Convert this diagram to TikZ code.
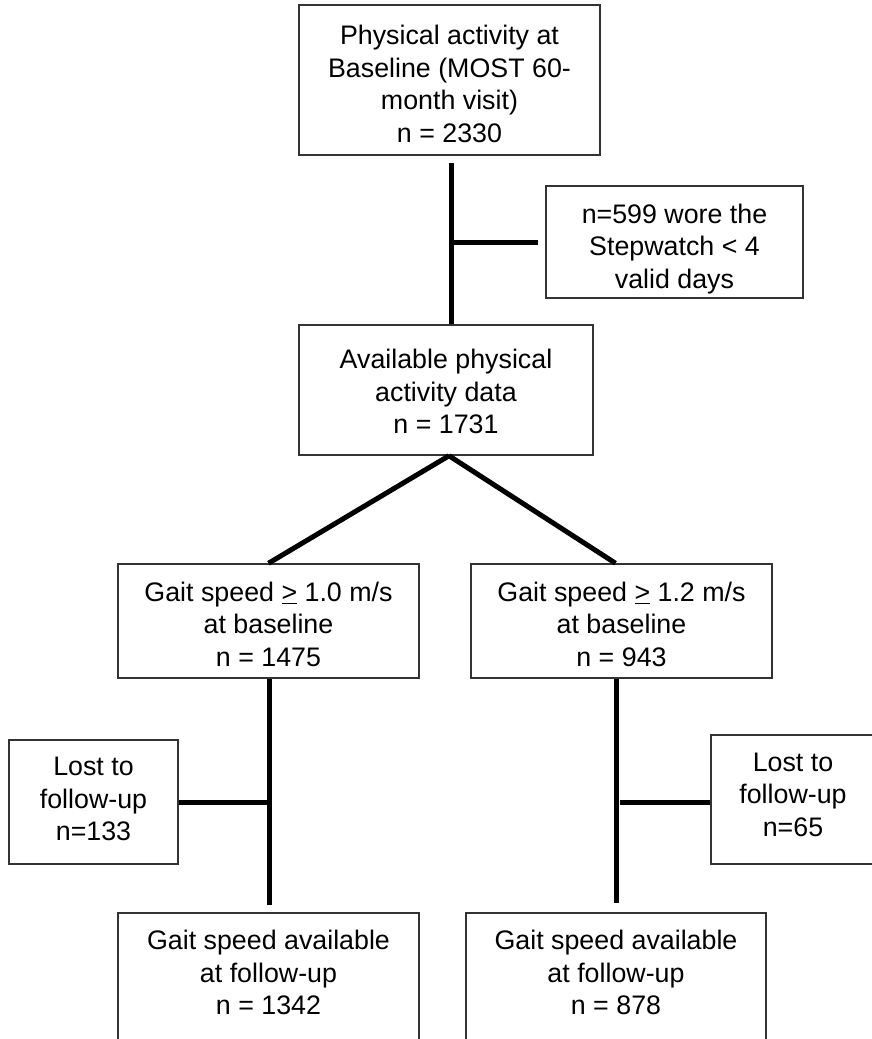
\documentclass[tikz,border=0pt]{standalone}
\usepackage{fontspec}
\setmainfont{Liberation Sans}
\usetikzlibrary{calc}
\newcommand\bxfont{\fontsize{26.8}{32.5}\selectfont}
\newcommand\myht[1]{\rule{0pt}{#1pt}}
\newcommand\mydp[1]{\rule[-#1pt]{0pt}{#1pt}}
\begin{document}
\begin{tikzpicture}[x=1pt,y=-1pt,
  box/.style={draw=black!80, line width=1.5pt, fill=white, align=center, inner sep=0pt, font=\bxfont},
  conn/.style={line width=5pt, black}]
\useasboundingbox (0,0) rectangle (872,1039);
\clip (0,0) rectangle (872,1039);
% boxes
\node[box, minimum width=301, minimum height=150] (b1) at (449.5,80)
  {\myht{27}Physical activity at\\Baseline (MOST 60-\\month visit)\\n = 2330};
\node[box, minimum width=257, minimum height=112] (b2) at (674.5,242)
  {\myht{33}n=599 wore the\\Stepwatch < 4\\valid days};
\node[box, minimum width=294, minimum height=130] (b3) at (446,390)
  {\myht{23}Available physical\\activity data\\n = 1731};
\node[box, minimum width=301, minimum height=114] (b4) at (268.5,621)
  {\myht{26}Gait speed \underline{>} 1.0 m/s\\at baseline\\n = 1475};
\node[box, minimum width=301, minimum height=114] (b5) at (621.5,621)
  {\myht{26}Gait speed \underline{>} 1.2 m/s\\at baseline\\n = 943};
\node[box, minimum width=169, minimum height=124] (lostL) at (93.5,802)
  {Lost to\\follow-up\\n=133\mydp{6}};
\node[box, minimum width=164, minimum height=129] (lostR) at (793,799.5)
  {Lost to\\follow-up\\n=65\mydp{10}};
\node[box, minimum width=301, minimum height=140] (b6) at (268.5,983)
  {Gait speed available\\at follow-up\\n = 1342\mydp{21}};
\node[box, minimum width=300, minimum height=140] (b7) at (616,983)
  {Gait speed available\\at follow-up\\n = 878\mydp{21}};
% connectors
\coordinate (t1) at ($(b1.south)+(1.5,7)$);
\coordinate (apex) at ($(b3.south)+(3,0)$);
\draw[conn] (t1) -- (t1 |- b3.north);
\draw[conn, shorten >=7pt] (t1 |- b2.west) -- (b2.west);
\draw[conn] (apex) -- (b4.north);
\draw[conn] (apex) -- ($(b5.north)+(-6,0)$);
\coordinate (t4) at ($(b4.south)+(1,0)$);
\draw[conn, shorten >=7pt] (t4) -- (t4 |- b6.north);
\draw[conn] (lostL.east) -- (t4 |- lostL.east);
\coordinate (t5) at (b7.north |- b5.south);
\draw[conn, shorten >=9pt] (t5) -- (b7.north);
\coordinate (j5) at ($(lostR.west)+(0,2.5)$);
\draw[conn] (j5) -- ($(t5 |- j5)+(4,0)$);
\end{tikzpicture}
\end{document}
